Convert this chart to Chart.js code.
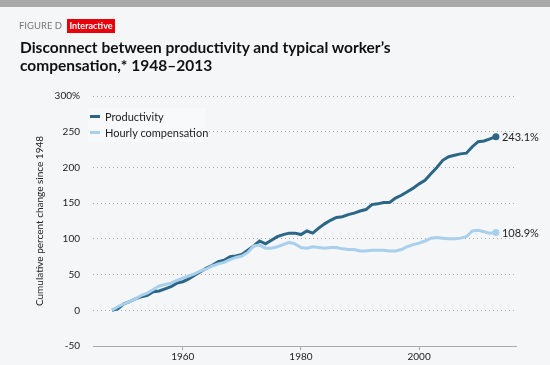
<!DOCTYPE html>
<html>
<head>
<meta charset="utf-8">
<script src="https://cdn.jsdelivr.net/npm/chart.js@4"></script>
<style>
  html, body { margin:0; padding:0; background:#f5f6f8; }
  #wrap { position:relative; width:550px; height:365px; overflow:hidden; background:#f5f6f8; }
  #topbar { position:absolute; left:0; top:0; width:550px; height:7px; background:#a9a9a9; }
  #fig { position:absolute; left:19px; top:20px; font:9.5px 'Lato', sans-serif; color:#777; }
  #badge { position:absolute; left:67px; top:19px; width:48px; height:14px; background:#e8000b; color:#fff;
           font:bold 9px 'Lato', sans-serif; line-height:14px; text-align:center; }
  #title { position:absolute; left:20px; top:38px; font:bold 15.5px 'Liberation Sans Narrow', 'Lato', sans-serif;
           color:#111; line-height:18px; }
  #legend { position:absolute; left:88px; top:108px; width:118px; height:34px; background:#f8f9fa;
            font:11px 'Lato', sans-serif; color:#222; }
  #legend div { position:absolute; left:17px; height:14px; line-height:14px; white-space:nowrap; }
  #legend span { position:absolute; left:-15px; top:5px; width:10px; height:3px; }
  canvas { position:absolute; left:0; top:0; }
</style>
</head>
<body>
<div id="wrap">
  <canvas id="lineChart" width="550" height="365"></canvas>
  <div id="topbar"></div>
  <div id="fig">FIGURE D</div>
  <div id="badge">Interactive</div>
  <div id="title">Disconnect between productivity and typical worker’s<br>compensation,* 1948–2013</div>
  <div id="legend">
    <div style="top:2px"><span style="background:#2b6687"></span>Productivity</div>
    <div style="top:18px"><span style="background:#a8cfec"></span>Hourly compensation</div>
  </div>
</div>
<script>
// Data
const years = [];
for (let y = 1948; y <= 2013; y++) years.push(y);

const productivity = [
  0, 2, 9, 12, 16, 19, 21, 26, 27, 30,
  33, 38, 40, 44, 49, 54, 59, 63, 68, 70,
  75, 76, 78, 84, 90, 97, 93, 98, 103, 106,
  108, 108, 106, 111, 108, 115, 121, 126, 130, 131,
  134, 136, 139, 141, 148, 149, 151, 151, 157, 161,
  166, 171, 177, 182, 191, 200, 210, 215, 217, 219,
  220, 229, 236, 237, 240, 243.1
];
const compensation = [
  0, 5, 9, 12, 16, 21, 24, 29, 34, 36,
  38, 42, 45, 48, 51, 55, 58, 62, 65, 67,
  71, 74, 76, 81, 90, 91.3, 87, 87, 89, 92,
  95, 93, 88, 87, 89, 88, 87, 88, 88, 86,
  85, 85, 83, 83, 84, 84, 84, 83, 83, 85,
  89, 92, 94, 97, 101, 102, 101, 100, 100, 101,
  103, 111, 112, 110, 108, 108.9
];
const xTicks = [1960, 1980, 2000];
const yTicks = [-50, 0, 50, 100, 150, 200, 250, 300];

const PROD = '#2b6687', COMP = '#a8cfec';
const FONT = "'Lato', sans-serif";

function pts(vals) { return years.map((y, i) => ({ x: y, y: vals[i] })); }
function lastDot(ctx) { return ctx.dataIndex === years.length - 1 ? 3.5 : 0; }

// end-of-line value labels
const endLabels = {
  id: 'endLabels',
  afterDatasetsDraw(chart) {
    const c = chart.ctx;
    c.save();
    c.font = '11px ' + FONT;
    c.fillStyle = '#222';
    c.textBaseline = 'middle';
    chart.data.datasets.forEach((ds, i) => {
      const meta = chart.getDatasetMeta(i);
      const p = meta.data[meta.data.length - 1];
      const v = ds.data[ds.data.length - 1].y;
      c.fillText(v.toFixed(1) + '%', p.x + 6, p.y + 1);
    });
    c.restore();
  }
};

new Chart(document.getElementById('lineChart').getContext('2d'), {
  type: 'line',
  data: {
    datasets: [
      { label: 'Hourly compensation', data: pts(compensation), borderColor: COMP, backgroundColor: COMP,
        borderWidth: 3, pointRadius: lastDot, pointBorderWidth: 0, tension: 0 },
      { label: 'Productivity', data: pts(productivity), borderColor: PROD, backgroundColor: PROD,
        borderWidth: 3, pointRadius: lastDot, pointBorderWidth: 0, tension: 0 }
    ]
  },
  options: {
    responsive: false,
    animation: false,
    layout: { padding: { top: 96, right: 34, bottom: 0, left: 0 } },
    plugins: { legend: { display: false }, tooltip: { enabled: false } },
    scales: {
      x: {
        type: 'linear', min: 1944.8, max: 2016.4,
        afterBuildTicks: s => { s.ticks = xTicks.map(v => ({ value: v })); },
        afterFit: s => { s.height = 18; },
        grid: { drawOnChartArea: false, drawTicks: true, tickLength: 4, color: '#aaa' },
        border: { display: true, color: '#aaa', width: 1 },
        ticks: { padding: 1, color: '#222', font: { family: FONT, size: 10 }, callback: v => String(v) }
      },
      y: {
        min: -50, max: 300,
        afterBuildTicks: s => { s.ticks = yTicks.map(v => ({ value: v })); },
        afterFit: s => { s.width = 93; },
        grid: { drawTicks: false, color: ctx => ctx.tick.value === -50 ? 'rgba(0,0,0,0)' : '#aaa',
                lineWidth: 1, borderDash: [1, 3] },
        border: { display: false, dash: [1, 3] },
        ticks: { padding: 13, color: '#222', font: { family: FONT, size: 10 },
                 callback: v => v === 300 ? '300%' : v },
        title: { display: true, text: 'Cumulative percent change since 1948', color: '#222',
                 font: { family: FONT, size: 10 }, padding: { top: 34 } }
      }
    }
  },
  plugins: [endLabels]
});
</script>
</body>
</html>
